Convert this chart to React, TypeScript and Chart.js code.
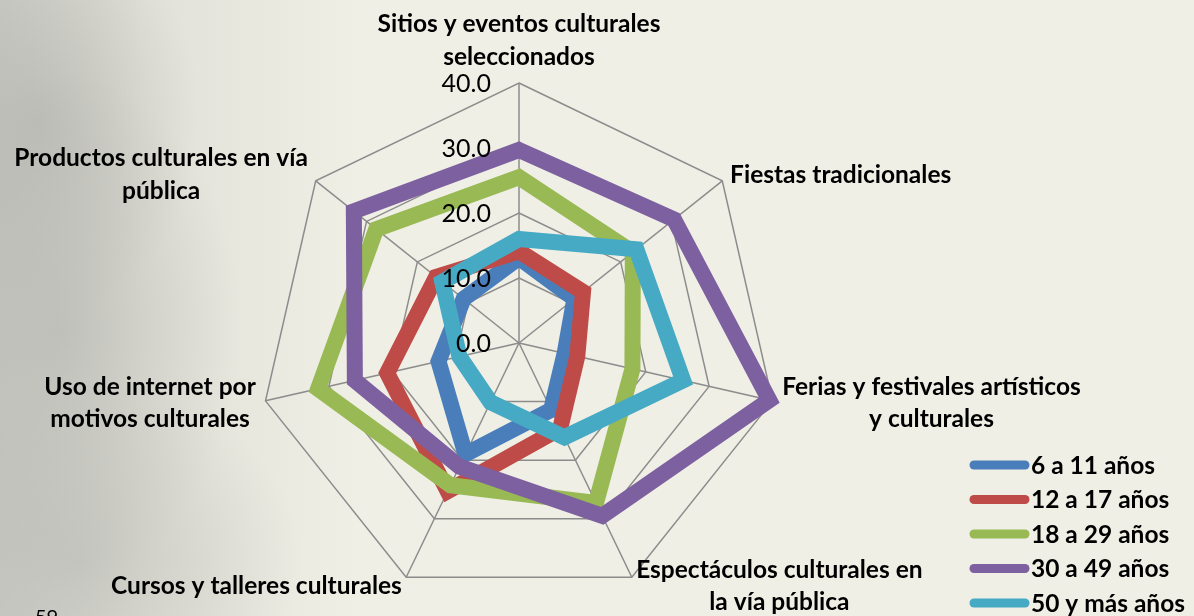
import React, { useEffect, useRef } from "react";
import { Chart, registerables } from "chart.js";

Chart.register(...registerables);

const categories: string[][] = [
  ["Sitios y eventos culturales", "seleccionados"],
  ["Fiestas tradicionales"],
  ["Ferias y festivales artísticos", "y culturales"],
  ["Espectáculos culturales en", "la vía pública"],
  ["Cursos y talleres culturales"],
  ["Uso de internet por", "motivos culturales"],
  ["Productos culturales en vía", "pública"],
];

const seriesNames = ["6 a 11 años", "12 a 17 años", "18 a 29 años", "30 a 49 años", "50 y más años"];

const age6to11 = [13.1, 10.9, 7.2, 11.4, 19.0, 12.7, 10.9];
const age12to17 = [14.1, 12.6, 9.2, 14.6, 25.3, 20.8, 16.3];
const age18to29 = [25.5, 22.4, 17.9, 27.3, 24.3, 31.7, 28.1];
const age30to49 = [29.7, 30.5, 39.5, 29.5, 21.1, 25.9, 32.5];
const age50plus = [16.0, 23.1, 25.9, 16.1, 10.1, 9.4, 15.1];

const seriesValues = [age6to11, age12to17, age18to29, age30to49, age50plus];
const seriesColors = ["#4A7EBB", "#BE4B48", "#98B954", "#7D60A0", "#46AAC5"];

const axisMin = 0;
const axisMax = 40;
const axisStep = 10;

const FONT = "Lato, 'Open Sans', sans-serif";
const LABEL_SIZE = 24.5;
const LINE_H = 32.5;
const TICK_SIZE = 25;

const customLabels = {
  id: "customLabels",
  afterDatasetsDraw(chart: any) {
    const r = chart.scales.r;
    const ctx = chart.ctx as CanvasRenderingContext2D;
    ctx.save();
    ctx.font = `${TICK_SIZE}px ${FONT}`;
    ctx.fillStyle = "#000";
    ctx.textAlign = "right";
    ctx.textBaseline = "middle";
    r.ticks.forEach((t: any) => {
      const d = r.getDistanceFromCenterForValue(t.value);
      ctx.fillText(Number(t.value).toFixed(1), r.xCenter - 28, r.yCenter - d + 1);
    });
    ctx.restore();
  },
  afterDraw(chart: any) {
    const r = chart.scales.r;
    const ctx = chart.ctx as CanvasRenderingContext2D;
    ctx.save();
    ctx.font = `bold ${LABEL_SIZE}px ${FONT}`;
    ctx.fillStyle = "#000";
    ctx.textBaseline = "middle";
    ctx.textAlign = "center";
    const labels = chart.data.labels as string[][];
    labels.forEach((lines, i) => {
      const p = r.getPointPosition(i, r.drawingArea + 10);
      const w = Math.max(...lines.map((l) => ctx.measureText(l).width));
      const h = lines.length * LINE_H;
      const dx = p.x - r.xCenter;
      let cx = p.x;
      if (dx > 1) cx = p.x + w / 2;
      else if (dx < -1) cx = p.x - w / 2;
      let top = p.y - h / 2;
      if (Math.abs(dx) <= 1 && p.y < r.yCenter) top = p.y - h;
      lines.forEach((l, k) => ctx.fillText(l, cx, top + LINE_H * (k + 0.5)));
    });

    // legend
    const lx0 = 974;
    const lx1 = 1025;
    const ly0 = 465;
    const step = 34.5;
    ctx.textAlign = "left";
    chart.data.datasets.forEach((ds: any, i: number) => {
      const y = ly0 + i * step;
      ctx.strokeStyle = ds.borderColor;
      ctx.lineWidth = 9;
      ctx.lineCap = "round";
      ctx.beginPath();
      ctx.moveTo(lx0, y);
      ctx.lineTo(lx1, y);
      ctx.stroke();
      ctx.fillStyle = "#000";
      ctx.fillText(ds.label, 1031, y + 1);
    });
    ctx.restore();
  },
};

export default function App() {
  const canvasRef = useRef<HTMLCanvasElement | null>(null);

  useEffect(() => {
    document.body.style.margin = "0";
    const canvas = canvasRef.current;
    if (!canvas) return;
    const chart = new Chart(canvas, {
      type: "radar",
      data: {
        labels: categories,
        datasets: seriesValues.map((vals, i) => ({
          label: seriesNames[i],
          data: vals,
          borderColor: seriesColors[i],
          backgroundColor: seriesColors[i],
          borderWidth: 16,
          borderJoinStyle: "miter" as const,
          fill: false,
          pointRadius: 0,
          pointHoverRadius: 0,
          tension: 0,
          order: seriesValues.length - i,
        })),
      },
      options: {
        animation: false,
        responsive: true,
        maintainAspectRatio: false,
        layout: { padding: { left: 259, right: 415, top: 83, bottom: 13 } },
        plugins: { legend: { display: false }, tooltip: { enabled: false } },
        elements: { line: { borderWidth: 16 } },
        scales: {
          r: {
            min: axisMin,
            max: axisMax,
            ticks: { stepSize: axisStep, display: false },
            grid: { color: "#8c8c8c", lineWidth: 1.5, circular: false },
            angleLines: { color: "#8c8c8c", lineWidth: 1.5 },
            pointLabels: { display: false },
          },
        },
      },
      plugins: [customLabels],
    });
    return () => chart.destroy();
  }, []);

  return (
    <div
      style={{
        position: "fixed",
        left: 0,
        top: 0,
        width: 1194,
        height: 616,
        overflow: "hidden",
        background:
          "radial-gradient(ellipse 180px 260px at 60px 330px, rgba(175,175,170,0.55), rgba(175,175,170,0) 100%)," +
          "radial-gradient(ellipse 160px 200px at 40px 120px, rgba(170,170,165,0.5), rgba(170,170,165,0) 100%)," +
          "radial-gradient(ellipse 220px 180px at 80px 560px, rgba(180,180,175,0.5), rgba(180,180,175,0) 100%)," +
          "linear-gradient(to right, rgba(200,200,195,0.9) 0%, rgba(215,215,208,0.6) 12%, rgba(239,239,229,0) 30%)," +
          "#EFEFE5",
      }}
    >
      <canvas ref={canvasRef} style={{ position: "absolute", left: 0, top: 0 }} />
      <div
        style={{
          position: "absolute",
          left: 35,
          top: 604,
          fontFamily: FONT,
          fontSize: 20,
          color: "#000",
        }}
      >
        59
      </div>
    </div>
  );
}
